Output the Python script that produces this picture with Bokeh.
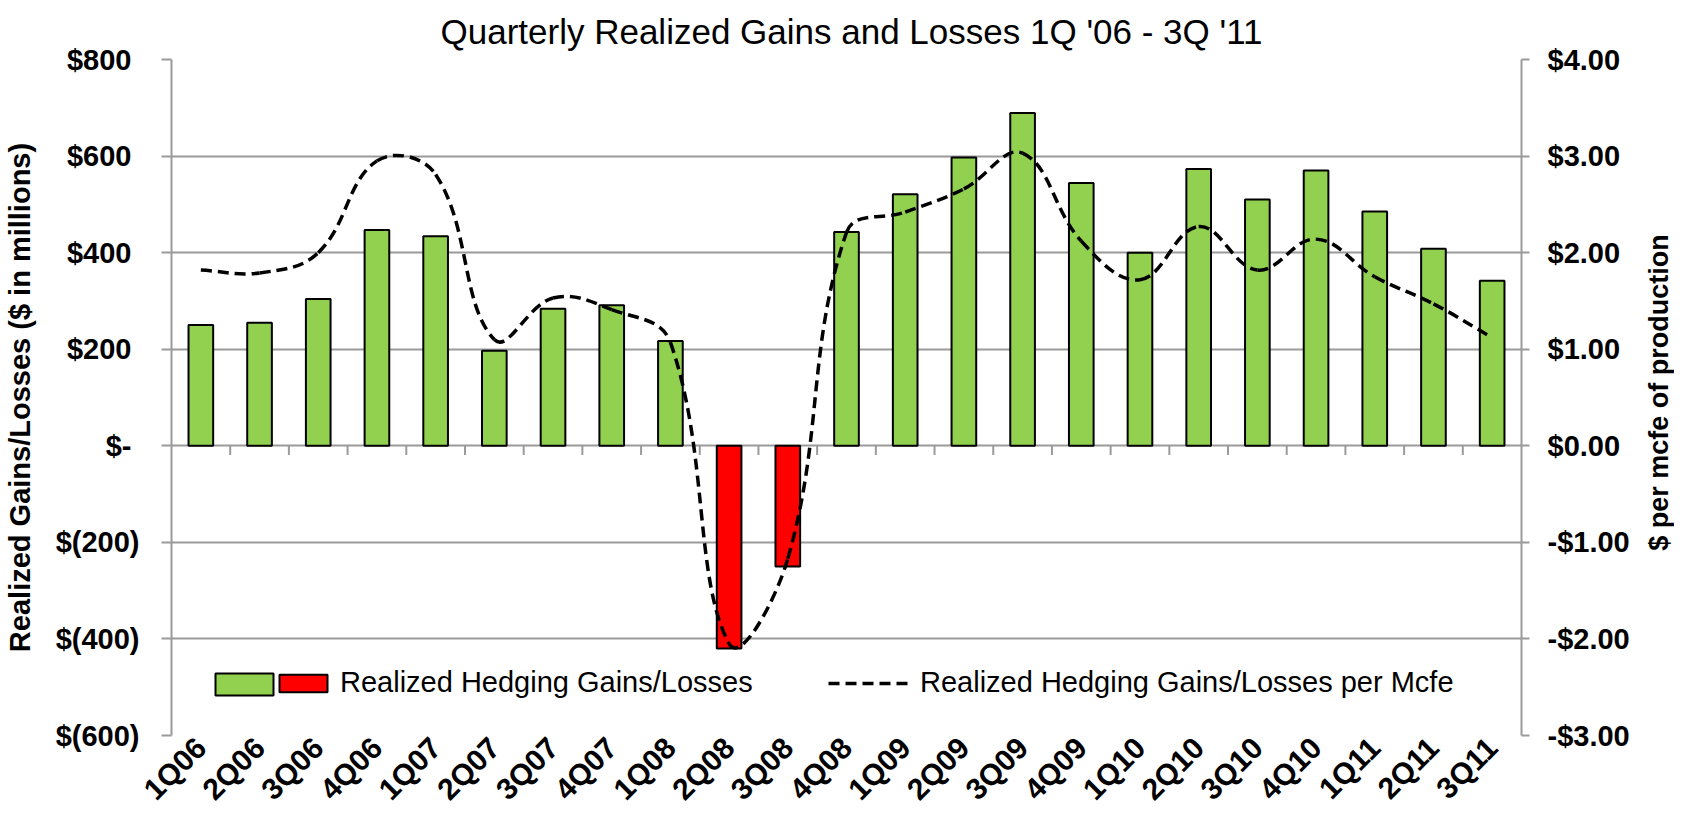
import numpy as np
from bokeh.plotting import figure
from bokeh.layouts import row
from bokeh.models import (Range1d, LinearAxis, FixedTicker, Legend, LegendItem,
                          ColumnDataSource, BoxAnnotation, Label)
from bokeh.embed import file_html
from bokeh.resources import INLINE

quarters = ["1Q06", "2Q06", "3Q06", "4Q06", "1Q07", "2Q07", "3Q07", "4Q07",
            "1Q08", "2Q08", "3Q08", "4Q08", "1Q09", "2Q09", "3Q09", "4Q09",
            "1Q10", "2Q10", "3Q10", "4Q10", "1Q11", "2Q11", "3Q11"]
gains_musd = [250, 255, 304, 447, 434, 197, 284, 291, 217, -420, -250, 443,
              521, 597, 689, 544, 400, 573, 510, 570, 485, 408, 342]
per_mcfe = [1.82, 1.79, 2.00, 2.95, 2.81, 1.10, 1.53, 1.41, 1.07, -2.05, -1.17,
            2.21, 2.42, 2.66, 3.03, 2.12, 1.72, 2.27, 1.82, 2.14, 1.75, 1.47, 1.12]

left_ticks = [-600, -400, -200, 0, 200, 400, 600, 800]
left_tick_labels = ["$(600)", "$(400)", "$(200)", "$-\u00a0", "$200\u00a0",
                    "$400\u00a0", "$600\u00a0", "$800\u00a0"]
right_ticks = [-3, -2, -1, 0, 1, 2, 3, 4]
right_tick_labels = ["-$3.00", "-$2.00", "-$1.00", "$0.00", "$1.00",
                     "$2.00", "$3.00", "$4.00"]

title_text = "Quarterly Realized Gains and Losses 1Q '06 - 3Q '11"
left_title = "Realized Gains/Losses ($ in millions)"
right_title = "$ per mcfe of production"
bar_label = "Realized Hedging Gains/Losses"
line_label = "Realized Hedging Gains/Losses per Mcfe"

GREEN = "#92D050"
RED = "#FF0000"
GRID = "#9a9a9a"
INK = "black"
FONT = "Liberation Sans"
n = len(quarters)
xs = np.arange(n)

W_ALL, H = 1674, 820
W2 = 36                      # narrow strip holding the right-hand axis title
W = W_ALL - W2
BL, BT, BB = 169, 59, 84
BR = W - 1521                # frame right edge at x = 1521

p = figure(width=W, height=H, x_range=Range1d(-0.5, n - 0.5),
           y_range=Range1d(-600, 800), output_backend="svg", toolbar_location=None,
           min_border_left=BL, min_border_right=BR, min_border_top=BT,
           min_border_bottom=BB, y_axis_location=None, x_axis_location=None)
p.extra_y_ranges = {"mcfe": Range1d(-3, 4)}
p.outline_line_color = None
p.background_fill_color = "white"
p.border_fill_color = "white"

p.title.text = title_text
p.title.align = "left"
p.title.offset = 269
p.title.text_font = FONT
p.title.text_font_size = "35px"
p.title.text_font_style = "normal"
p.title.text_color = INK
p.title.standoff = 18

p.xgrid.visible = False
p.ygrid.ticker = FixedTicker(ticks=left_ticks)
p.ygrid.grid_line_color = GRID
p.ygrid.grid_line_width = 2

# Left axis
yl = LinearAxis(ticker=FixedTicker(ticks=left_ticks),
                major_label_overrides={t: s for t, s in zip(left_ticks, left_tick_labels)})
yl.axis_label = left_title
yl.axis_label_text_font = FONT
yl.axis_label_text_font_size = "29px"
yl.axis_label_text_font_style = "bold"
yl.axis_label_text_color = INK
yl.axis_label_standoff = 17
yl.major_label_text_font = FONT
yl.major_label_text_font_size = "29px"
yl.major_label_text_font_style = "bold"
yl.major_label_text_color = INK
yl.major_label_standoff = 22
yl.axis_line_color = GRID
yl.axis_line_width = 2
yl.major_tick_line_color = GRID
yl.major_tick_line_width = 2
yl.major_tick_out = 10
yl.major_tick_in = 0
yl.minor_tick_line_color = None
p.add_layout(yl, "left")

# Right axis (ticks and labels)
yr = LinearAxis(y_range_name="mcfe", ticker=FixedTicker(ticks=right_ticks),
                major_label_overrides={t: s for t, s in zip(right_ticks, right_tick_labels)})
yr.major_label_text_font = FONT
yr.major_label_text_font_size = "29px"
yr.major_label_text_font_style = "bold"
yr.major_label_text_color = INK
yr.major_label_standoff = 18
yr.axis_line_color = GRID
yr.axis_line_width = 2
yr.major_tick_line_color = GRID
yr.major_tick_line_width = 2
yr.major_tick_out = 8
yr.major_tick_in = 0
yr.minor_tick_line_color = None
p.add_layout(yr, "right")

# Bottom axis
xb = LinearAxis(ticker=FixedTicker(ticks=list(xs)),
                major_label_overrides={int(i): q for i, q in zip(xs, quarters)})
xb.major_label_orientation = np.pi / 4
xb.major_label_text_font = FONT
xb.major_label_text_font_size = "30px"
xb.major_label_text_font_style = "bold"
xb.major_label_text_color = INK
xb.major_label_standoff = 7
xb.major_tick_out = 0
xb.major_tick_in = 0
xb.axis_line_color = None
xb.major_tick_line_color = None
xb.minor_tick_line_color = None
p.add_layout(xb, "below")

# Ticks on the zero line at category boundaries
bounds = xs[:-1] + 0.5
p.segment(x0=bounds, y0=np.zeros(len(bounds)), x1=bounds, y1=np.full(len(bounds), -19.0),
          line_color=GRID, line_width=2)

# Bars
g = np.array(gains_musd, dtype=float)
pos = g >= 0
src_pos = ColumnDataSource(dict(x=xs[pos], top=g[pos]))
src_neg = ColumnDataSource(dict(x=xs[~pos], top=g[~pos]))
r_green = p.vbar(x="x", top="top", bottom=0, width=0.42, source=src_pos,
                 fill_color=GREEN, line_color="black", line_width=2)
r_red = p.vbar(x="x", top="top", bottom=0, width=0.42, source=src_neg,
               fill_color=RED, line_color="black", line_width=2)

# Smoothed dashed line: Bezier segments through the data points, control
# points scaled by the neighbouring chord lengths in screen space.
fw = W - BL - BR
fh = H - BT - BB
sx = fw / n            # px per category
sy = fh / 7.0          # px per $1.00
yv = np.array(per_mcfe, dtype=float)
xv = xs.astype(float)
px_, py_ = xv * sx, yv * sy
cin_x, cin_y, cout_x, cout_y = [], [], [], []
S = 0.4
for i in range(n):
    ip, inx = max(i - 1, 0), min(i + 1, n - 1)
    tx, ty = px_[inx] - px_[ip], py_[inx] - py_[ip]
    dp = np.hypot(px_[i] - px_[ip], py_[i] - py_[ip])
    dn = np.hypot(px_[inx] - px_[i], py_[inx] - py_[i])
    tot = dp + dn if dp + dn > 0 else 1.0
    cin_x.append(px_[i] - tx * S * dp / tot)
    cin_y.append(py_[i] - ty * S * dp / tot)
    cout_x.append(px_[i] + tx * S * dn / tot)
    cout_y.append(py_[i] + ty * S * dn / tot)
bz = dict(x0=xv[:-1], y0=yv[:-1], x1=xv[1:], y1=yv[1:],
          cx0=np.array(cout_x[:-1]) / sx, cy0=np.array(cout_y[:-1]) / sy,
          cx1=np.array(cin_x[1:]) / sx, cy1=np.array(cin_y[1:]) / sy)
r_line = p.bezier(x0="x0", y0="y0", x1="x1", y1="y1", cx0="cx0", cy0="cy0",
                  cx1="cx1", cy1="cy1", source=ColumnDataSource(bz),
                  y_range_name="mcfe", line_color="black", line_width=3.5,
                  line_dash="11 6")

# Legend (inside the plot, bottom): green swatch + red swatch + label, then line
LEG_Y = 36
p.add_layout(BoxAnnotation(left=44, right=102, bottom=LEG_Y + 4, top=LEG_Y + 26,
                           left_units="screen", right_units="screen",
                           bottom_units="screen", top_units="screen",
                           fill_color=GREEN, fill_alpha=1.0, line_color="black",
                           line_width=2, line_alpha=1.0, level="overlay"))


def make_legend(items, loc, gw, standoff):
    lg = Legend(items=items, location=loc, orientation="horizontal",
                glyph_width=gw, glyph_height=22, label_height=22,
                label_standoff=standoff, spacing=0, padding=0, margin=0,
                border_line_color=None, background_fill_alpha=0,
                label_text_font=FONT, label_text_font_size="29px",
                label_text_color=INK, label_text_baseline="middle")
    p.add_layout(lg)
    return lg


make_legend([LegendItem(label=bar_label, renderers=[r_red])], (102, LEG_Y), 60, 7)
make_legend([LegendItem(label=line_label, renderers=[r_line])], (657, LEG_Y), 82, 10)

# Narrow strip to the right with the secondary-axis title, reading bottom-to-top
p2 = figure(width=W2, height=H, x_range=Range1d(0, 1), y_range=Range1d(0, 1),
            output_backend="svg", toolbar_location=None, min_border=0,
            x_axis_location=None, y_axis_location=None)
p2.outline_line_color = None
p2.grid.visible = False
p2.background_fill_color = "white"
p2.border_fill_color = "white"
p2.add_layout(Label(x=W2 / 2 + 2, y=H - 392 - 85, x_units="screen", y_units="screen",
                    text=right_title, angle=np.pi / 2, text_align="center",
                    text_baseline="middle", text_font=FONT, text_font_size="27px",
                    text_font_style="bold", text_color=INK))

layout = row(p, p2, spacing=0)
open("out.html", "w").write(file_html(layout, INLINE))
